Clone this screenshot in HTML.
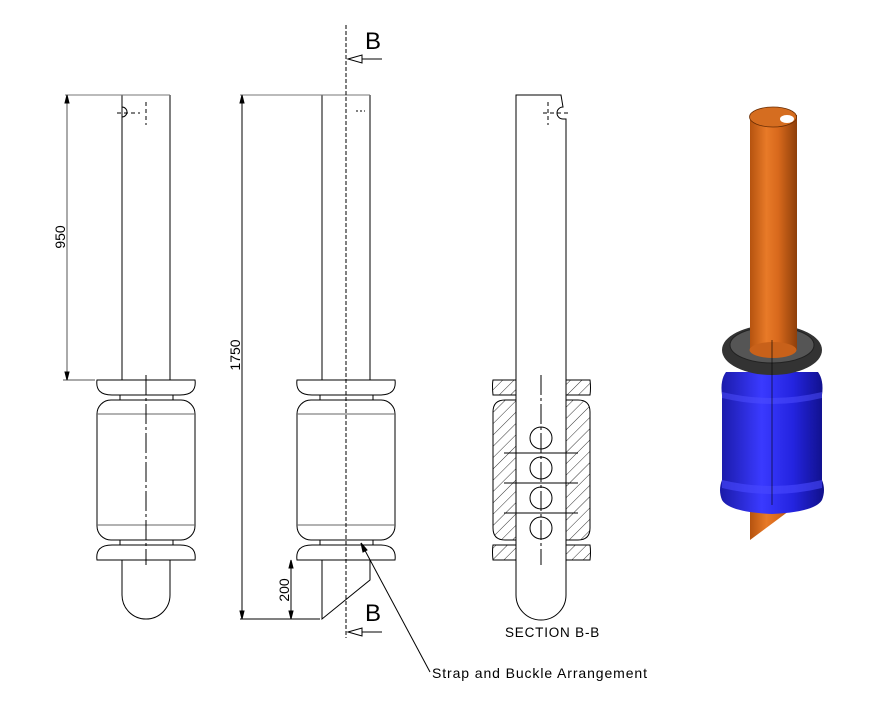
<!DOCTYPE html><html><head><style>body{margin:0;background:#fff}svg{display:block}text{font-family:"Liberation Sans",sans-serif}</style></head><body>
<svg width="878" height="716" viewBox="0 0 878 716" xmlns="http://www.w3.org/2000/svg">
<defs>
<pattern id="h" width="8" height="8" patternUnits="userSpaceOnUse" patternTransform="rotate(45)"><line x1="0" y1="0" x2="0" y2="8" stroke="#000" stroke-width="0.8"/></pattern>
<linearGradient id="or" x1="0" x2="1"><stop offset="0" stop-color="#b5530f"/><stop offset=".35" stop-color="#e87a28"/><stop offset=".6" stop-color="#d8691c"/><stop offset="1" stop-color="#8e3f0a"/></linearGradient>
<linearGradient id="bl" x1="0" x2="1"><stop offset="0" stop-color="#1a1aa8"/><stop offset=".4" stop-color="#3a3aff"/><stop offset=".7" stop-color="#2424e0"/><stop offset="1" stop-color="#10108a"/></linearGradient>
<g id="unit" fill="none" stroke="#000" stroke-width="1">
<path d="M97,380 H195 Q197,395 180,395 H112 Q95,395 97,380Z"/>
<rect x="120" y="395" width="53" height="5"/>
<rect x="97" y="400" width="98" height="140" rx="14"/>
<line x1="97" y1="414" x2="195" y2="414" stroke="#666"/><line x1="97" y1="525" x2="195" y2="525" stroke="#666"/>
<rect x="120" y="540" width="53" height="5"/>
<path d="M97,560 H195 Q197,545 180,545 H112 Q95,545 97,560Z"/>
</g>
</defs>
<g fill="none" stroke="#000" stroke-width="1">
<path d="M122,380 V95 M170,95 V380" /><line x1="65" y1="95" x2="170" y2="95" stroke="#777"/>
<path d="M122,107 a5,5 0 0 1 0,10" /><path d="M117,113 H140 M146,102 V125" stroke-dasharray="4,3"/>
<use href="#unit"/>
<line x1="146" y1="375" x2="146" y2="565" stroke-dasharray="20,3,3,3"/>
<path d="M122,560 V595 a24,24 0 0 0 48,0 V560"/>
<line x1="67" y1="95" x2="67" y2="380" stroke="#555"/><line x1="63" y1="380" x2="95" y2="380" stroke="#555"/>
<path d="M67,95 l-2,8 h4z M67,380 l-2,-8 h4z" fill="#000"/>
<use href="#unit" x="200"/>
<path d="M322,380 V95 M370,95 V380" /><line x1="240" y1="95" x2="370" y2="95" stroke="#777"/>
<path d="M322,560 V619 L370,580 V560"/>
<line x1="346" y1="25" x2="346" y2="638" stroke-dasharray="4,2"/>
<path d="M356,111 H365" stroke-dasharray="2,2"/>
<line x1="242" y1="95" x2="242" y2="619"/><line x1="240" y1="619" x2="320" y2="619"/>
<path d="M242,95 l-2,8 h4z M242,619 l-2,-8 h4z" fill="#000"/>
<line x1="291" y1="560" x2="291" y2="619"/><path d="M291,560 l-2,8 h4z M291,619 l-2,-8 h4z" fill="#000"/>
<path d="M382,59 H362 M348,59 L362,55 V63Z"/><path d="M382,632 H362 M348,632 L362,628 V636Z"/>
<path d="M430,672 L361,543"/><path d="M361,543 l2,9 l4,-2z" fill="#000"/>
<path d="M516,95 H561 l2,12 a5,5 0 0 0 0,12 l3,0 V595 a25,25 0 0 1 -50,0 Z"/>
<path d="M493,380 H516 V395 H493 Q492,385 493,380Z M566,380 H590 Q591,388 590,395 H566Z" fill="url(#h)"/>
<path d="M505,400 H516 V540 H505 Q493,540 493,528 V412 Q493,400 505,400Z M566,400 H578 Q590,400 590,412 V528 Q590,540 578,540 H566Z" fill="url(#h)"/>
<path d="M493,560 Q492,552 493,545 H516 V560Z M566,545 H590 Q591,552 590,560 H566Z" fill="url(#h)"/>
<circle cx="541" cy="438" r="11"/><circle cx="541" cy="468" r="11"/><circle cx="541" cy="498" r="11"/><circle cx="541" cy="528" r="11"/>
<path d="M504,453 H578 M504,483 H578 M504,513 H578"/>
<line x1="541" y1="375" x2="541" y2="565" stroke-dasharray="20,3,3,3"/>
<path d="M548,102 V125 M543,113 H570" stroke-dasharray="4,3"/>
</g>
<path d="M750,500 V540 L797,505 Z" fill="url(#or)"/>
<path d="M726,372 H818 Q824,380 822,395 V480 Q826,490 822,500 Q815,512 772,514 Q729,512 722,500 Q718,490 722,480 V395 Q720,380 726,372Z" fill="url(#bl)"/>
<path d="M722,480 Q772,492 822,480 V488 Q772,500 722,488Z" fill="#4a4aff" opacity=".6"/>
<path d="M722,392 Q772,404 822,392 V398 Q772,410 722,398Z" fill="#5050ff" opacity=".5"/>
<ellipse cx="772" cy="350" rx="50" ry="25" fill="#333"/>
<ellipse cx="772" cy="345" rx="42" ry="18" fill="#555" stroke="#222"/>
<rect x="750" y="115" width="47" height="235" fill="url(#or)"/>
<ellipse cx="773" cy="350" rx="23.5" ry="8" fill="#c8611a"/>
<ellipse cx="773" cy="117" rx="23.5" ry="10" fill="#d56d20" stroke="#6a2e05" stroke-width="0.8"/>
<ellipse cx="787" cy="119" rx="7" ry="4" fill="#fff"/>
<line x1="772" y1="340" x2="772" y2="505" stroke="#000" stroke-width="0.6"/>
<text x="365" y="49" font-size="24">B</text>
<text x="365" y="621" font-size="24">B</text>
<text transform="translate(65,237) rotate(-90)" font-size="14" text-anchor="middle">950</text>
<text transform="translate(240,355) rotate(-90)" font-size="14" text-anchor="middle">1750</text>
<text transform="translate(289,590) rotate(-90)" font-size="14" text-anchor="middle">200</text>
<text x="505" y="637" font-size="13.5" letter-spacing="0.8">SECTION B-B</text>
<text x="432" y="678" font-size="14" letter-spacing="0.9">Strap and Buckle Arrangement</text>
</svg>
</body></html>
